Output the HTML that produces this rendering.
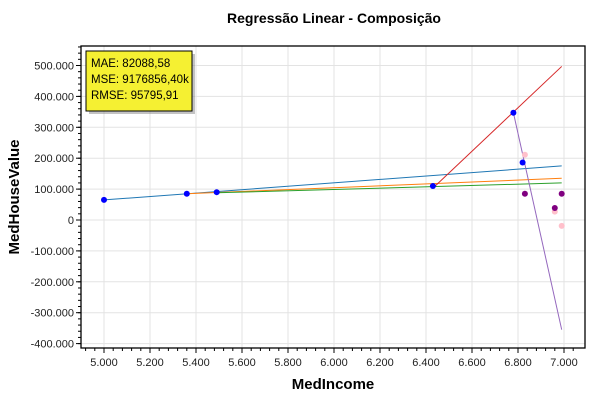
<!DOCTYPE html>
<html><head><meta charset="utf-8"><style>
body{margin:0;background:#fff;width:600px;height:400px;overflow:hidden;font-family:"Liberation Sans",sans-serif}
</style></head><body>
<svg id="chart" width="600" height="400" xmlns="http://www.w3.org/2000/svg">
<text x="334" y="23" text-anchor="middle" font-size="14" font-weight="bold" fill="#000">Regressão Linear - Composição</text>
<g id="grid"></g>
<g id="axes"></g>
<g id="series"></g>
<text x="333" y="389" text-anchor="middle" font-size="15" font-weight="bold">MedIncome</text>
<text transform="translate(19,197) rotate(-90)" text-anchor="middle" font-size="15" font-weight="bold">MedHouseValue</text>
<g>
<rect x="89" y="54" width="106" height="60" fill="#888" opacity="0.5"/>
<rect x="86" y="51" width="106" height="60" fill="#f5f032" stroke="#000" stroke-width="1"/>
<text x="91" y="67" font-size="11.5">MAE: 82088,58</text>
<text x="91" y="83" font-size="11.5">MSE: 9176856,40k</text>
<text x="91" y="99" font-size="11.5">RMSE: 95795,91</text>
</g>
</svg>
<script>
const xTicks=[5.0,5.2,5.4,5.6,5.8,6.0,6.2,6.4,6.6,6.8,7.0];
const xTickLabels=["5.000","5.200","5.400","5.600","5.800","6.000","6.200","6.400","6.600","6.800","7.000"];
const yTicks=[500000,400000,300000,200000,100000,0,-100000,-200000,-300000,-400000];
const yTickLabels=["500.000","400.000","300.000","200.000","100.000","0","-100.000","-200.000","-300.000","-400.000"];
const pointsX=[5.0,5.36,5.49,6.43,6.78,6.82];
const pointsY=[65000,85000,90000,110000,347000,186000];
const purpleX=[6.83,6.96,6.99];
const purpleY=[85000,39000,85000];
const pinkX=[6.83,6.96,6.99];
const pinkY=[211000,27000,-19000];
const lineNames=["blue","orange","green","red","purple"];
const lineColors=["#1f77b4","#ff7f0e","#2ca02c","#d62728","#9467bd"];
const lineX1=[5.0,5.36,5.49,6.44,6.78];
const lineY1=[65000,85000,88000,110000,347000];
const lineX2=[6.99,6.99,6.99,6.99,6.99];
const lineY2=[175000,135000,120000,497000,-355000];

const L=81,R=585,T=46,B=348;
const sx=v=>104+(v-5)*230;
const sy=v=>220-v*0.000309;
const NS="http://www.w3.org/2000/svg";
function mk(tag,parent,attrs){const e=document.createElementNS(NS,tag);for(const k in attrs)e.setAttribute(k,attrs[k]);document.getElementById(parent).appendChild(e);return e;}
xTicks.forEach((t,i)=>{
 const g=mk('line','grid',{x1:sx(t),x2:sx(t),y1:T,y2:B,stroke:'#e3e3e3'});
 
 
 mk('line','axes',{x1:sx(t),x2:sx(t),y1:B,y2:B+5,stroke:'#000'});
 const tx=mk('text','axes',{x:sx(t),y:B+18,'text-anchor':'middle','font-size':'11',fill:'#222'});
 tx.textContent=xTickLabels[i];
 
 
});
for(let v=4.92;v<7.08;v+=0.04){const x=sx(v);if(x>L&&x<R)mk('line','axes',{x1:x,x2:x,y1:B,y2:B+3,stroke:'#000'});}
yTicks.forEach((t,i)=>{
 const g=mk('line','grid',{x1:L,x2:R,y1:sy(t),y2:sy(t),stroke:'#e3e3e3'});
 
 
 mk('line','axes',{x1:L-5,x2:L,y1:sy(t),y2:sy(t),stroke:'#000'});
 const tx=mk('text','axes',{x:L-7,y:sy(t)+4,'text-anchor':'end','font-size':'11',fill:'#222'});
 tx.textContent=yTickLabels[i];
 
 
});
for(let v=-420000;v<=560000;v+=20000){const y=sy(v);if(y>T&&y<B)mk('line','axes',{x1:L-3,x2:L,y1:y,y2:y,stroke:'#000'});}
mk('rect','axes',{x:L,y:T,width:R-L,height:B-T,fill:'none',stroke:'#000','stroke-width':1.3});
lineNames.forEach((n,i)=>{
 const l=mk('line','series',{x1:sx(lineX1[i]),y1:sy(lineY1[i]),x2:sx(lineX2[i]),y2:sy(lineY2[i]),stroke:lineColors[i],'stroke-width':1});
 
 
});
pinkX.forEach((x,i)=>{
 const c=mk('circle','series',{cx:sx(x),cy:sy(pinkY[i]),r:3,fill:'#ffc0cb'});
 
 
});
purpleX.forEach((x,i)=>{
 const c=mk('circle','series',{cx:sx(x),cy:sy(purpleY[i]),r:3,fill:'#800080'});
 
 
});
pointsX.forEach((x,i)=>{
 const c=mk('circle','series',{cx:sx(x),cy:sy(pointsY[i]),r:3,fill:'#0000ff'});
 
 
});
</script>
</body></html>
